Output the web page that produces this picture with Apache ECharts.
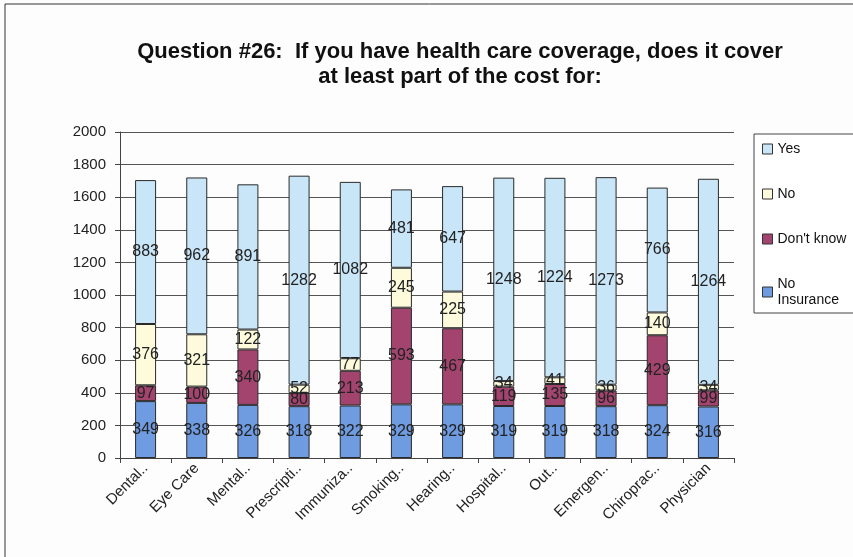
<!DOCTYPE html>
<html>
<head>
<meta charset="utf-8">
<script src="https://cdn.jsdelivr.net/npm/echarts@6/dist/echarts.min.js"></script>
<style>
  html, body { margin: 0; padding: 0; background: #fff; }
  #main { width: 853px; height: 557px; }
</style>
</head>
<body>
<div id="main"></div>
<script>
// categories and values
var categories = ['Dental..', 'Eye Care', 'Mental..', 'Prescripti..', 'Immuniza..', 'Smoking..',
                  'Hearing..', 'Hospital..', 'Out..', 'Emergen..', 'Chiroprac..', 'Physician'];
var noInsurance = [349, 338, 326, 318, 322, 329, 329, 319, 319, 318, 324, 316];
var dontKnow    = [97, 100, 340, 80, 213, 593, 467, 119, 135, 96, 429, 99];
var noValues    = [376, 321, 122, 52, 77, 245, 225, 34, 41, 36, 140, 34];
var yesValues   = [883, 962, 891, 1282, 1082, 481, 647, 1248, 1224, 1273, 766, 1264];
var yTicks = { min: 0, max: 2000, interval: 200 };

var chart = echarts.init(document.getElementById('main'));

function seg(name, data, color) {
    return {
        name: name,
        type: 'bar',
        stack: 'total',
        barWidth: 21,
        data: data,
        itemStyle: { color: color, borderColor: '#2a2a2a', borderWidth: 1 },
        label: {
            show: true,
            position: 'inside',
            color: '#222',
            fontSize: 16,
            fontFamily: 'Liberation Sans, Arial, sans-serif'
        },
        emphasis: { disabled: true }
    };
}

var option = {
    backgroundColor: '#fdfdfd',
    animation: false,
    title: {
        text: 'Question #26:  If you have health care coverage, does it cover\nat least part of the cost for:',
        left: 455,
        top: 34,
        textAlign: 'center',
        textStyle: {
            fontFamily: 'Liberation Sans, Arial, sans-serif',
            fontWeight: 'bold',
            fontSize: 22,
            lineHeight: 25,
            color: '#111'
        }
    },
    graphic: [
        { type: 'rect', shape: { x: 5, y: 4, width: 860, height: 570 },
          style: { fill: 'none', stroke: '#333', lineWidth: 1 } },
        { type: 'rect', shape: { x: 754, y: 134, width: 110, height: 179 },
          style: { fill: '#fff', stroke: '#444', lineWidth: 1 } }
    ],
    legend: {
        orient: 'vertical',
        left: 757,
        top: 136,
        itemWidth: 10,
        itemHeight: 10,
        itemGap: 29,
        icon: 'rect',
        data: ['Yes', 'No', "Don't know", 'No Insurance'],
        formatter: function (name) {
            return name === 'No Insurance' ? 'No\nInsurance' : name;
        },
        itemStyle: { borderColor: '#333', borderWidth: 1 },
        textStyle: {
            fontFamily: 'Liberation Sans, Arial, sans-serif',
            fontSize: 14,
            lineHeight: 16,
            color: '#111'
        }
    },
    grid: { left: 120, right: 119, top: 132, bottom: 99 },
    xAxis: {
        type: 'category',
        data: categories,
        axisLine: { lineStyle: { color: '#444' } },
        axisTick: { show: true, lineStyle: { color: '#444' } },
        axisLabel: {
            rotate: 45,
            interval: 0,
            color: '#222',
            fontSize: 15,
            fontFamily: 'Liberation Sans, Arial, sans-serif'
        }
    },
    yAxis: {
        type: 'value',
        min: yTicks.min,
        max: yTicks.max,
        interval: yTicks.interval,
        axisLine: { show: true, lineStyle: { color: '#444' } },
        axisTick: { show: true, lineStyle: { color: '#444' } },
        splitLine: { lineStyle: { color: '#555' } },
        axisLabel: {
            color: '#222',
            fontSize: 15,
            margin: 14,
            formatter: function (v) { return String(v); },
            fontFamily: 'Liberation Sans, Arial, sans-serif'
        }
    },
    series: [
        seg('No Insurance', noInsurance, '#6f9be0'),
        seg("Don't know", dontKnow, '#a3446f'),
        seg('No', noValues, '#fdfbdc'),
        seg('Yes', yesValues, '#c8e6f8')
    ]
};

chart.setOption(option);
</script>
</body>
</html>
